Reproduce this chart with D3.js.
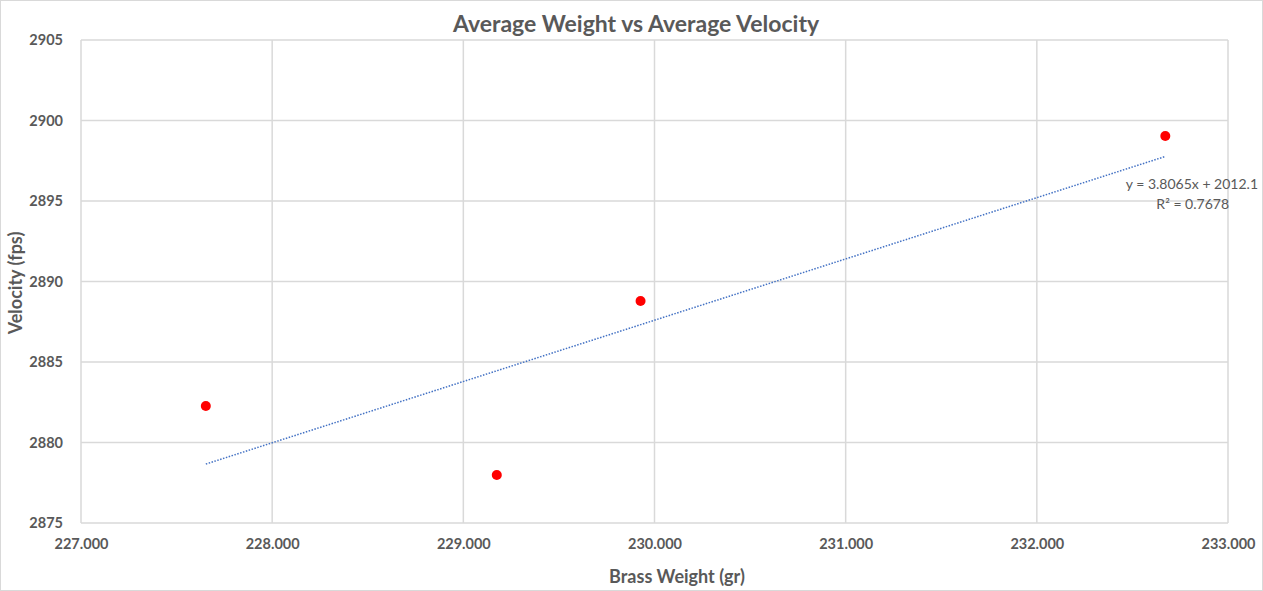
<!DOCTYPE html>
<html><head><meta charset="utf-8">
<script src="https://cdn.jsdelivr.net/npm/d3@7"></script>
<style>body{margin:0;background:#fff;} svg{display:block;}</style>
</head><body>
<svg id="c" width="1263" height="591"></svg>
<script>
const title = "Average Weight vs Average Velocity";
const xTitle = "Brass Weight (gr)";
const yTitle = "Velocity (fps)";
const weights = [227.653, 229.175, 229.927, 232.672];
const velocities = [2882.27, 2877.98, 2888.79, 2899.04];
const xTicks = [227, 228, 229, 230, 231, 232, 233];
const yTicks = [2875, 2880, 2885, 2890, 2895, 2900, 2905];
const slope = 3.8065, intercept = 2012.1;
const eqLabel = "y = 3.8065x + 2012.1";
const r2Label = "R² = 0.7678";

const svg = d3.select("#c");
const font = "Lato, 'Open Sans', sans-serif";
const grey = "#595959";
const m = {left: 81, right: 1228, top: 40, bottom: 523};
const x = d3.scaleLinear().domain([227, 233]).range([m.left, m.right]);
const y = d3.scaleLinear().domain([2875, 2905]).range([m.bottom, m.top]);

svg.append("rect").attr("x",0.5).attr("y",0.5).attr("width",1262).attr("height",590)
  .attr("fill","#fff").attr("stroke","#d9d9d9");

// gridlines
svg.append("g").selectAll("line").data(yTicks).join("line")
  .attr("x1", m.left).attr("x2", m.right).attr("y1", d=>y(d)).attr("y2", d=>y(d))
  .attr("stroke","#d9d9d9").attr("stroke-width",1.5);
svg.append("g").selectAll("line").data(xTicks).join("line")
  .attr("y1", m.top).attr("y2", m.bottom).attr("x1", d=>x(d)).attr("x2", d=>x(d))
  .attr("stroke","#d9d9d9").attr("stroke-width",1.5);

// axes
const xAxis = svg.append("g").attr("transform",`translate(0,${m.bottom})`)
  .call(d3.axisBottom(x).tickValues(xTicks).tickFormat(d3.format(".3f")).tickSize(0).tickPadding(16));
xAxis.select(".domain").remove();
xAxis.selectAll("text").attr("font-family",font).attr("font-size",14.5).attr("font-weight","bold").attr("fill",grey);
const yAxis = svg.append("g").attr("transform",`translate(${m.left},0)`)
  .call(d3.axisLeft(y).tickValues(yTicks).tickFormat(d3.format("d")).tickSize(0).tickPadding(18));
yAxis.select(".domain").remove();
yAxis.selectAll("text").attr("font-family",font).attr("font-size",14.5).attr("font-weight","bold").attr("fill",grey);

// trendline
const xr = d3.extent(weights);
svg.append("line")
  .attr("x1", x(xr[0])).attr("y1", y(slope*xr[0]+intercept))
  .attr("x2", x(xr[1])).attr("y2", y(slope*xr[1]+intercept))
  .attr("stroke","#4472c4").attr("stroke-width",1.5).attr("stroke-dasharray","1.5,1.5");

// points
svg.append("g").selectAll("circle").data(weights).join("circle")
  .attr("cx", d=>x(d)).attr("cy",(d,i)=>y(velocities[i])).attr("r",5).attr("fill","#ff0000");

// equation labels
svg.append("text").attr("x",1258).attr("y",189).attr("text-anchor","end")
  .attr("font-family",font).attr("font-size",14).attr("fill",grey).text(eqLabel);
svg.append("text").attr("x",1229).attr("y",209).attr("text-anchor","end")
  .attr("font-family",font).attr("font-size",14).attr("fill",grey).text(r2Label);

// titles
svg.append("text").attr("x",636).attr("y",32).attr("text-anchor","middle")
  .attr("font-family",font).attr("font-size",23).attr("font-weight","bold").attr("fill",grey).text(title);
svg.append("text").attr("x",677).attr("y",583).attr("text-anchor","middle")
  .attr("font-family",font).attr("font-size",18).attr("font-weight","bold").attr("fill",grey).text(xTitle);
svg.append("text").attr("transform",`translate(22,283) rotate(-90)`).attr("text-anchor","middle")
  .attr("font-family",font).attr("font-size",18).attr("font-weight","bold").attr("fill",grey).text(yTitle);
</script>
</body></html>
